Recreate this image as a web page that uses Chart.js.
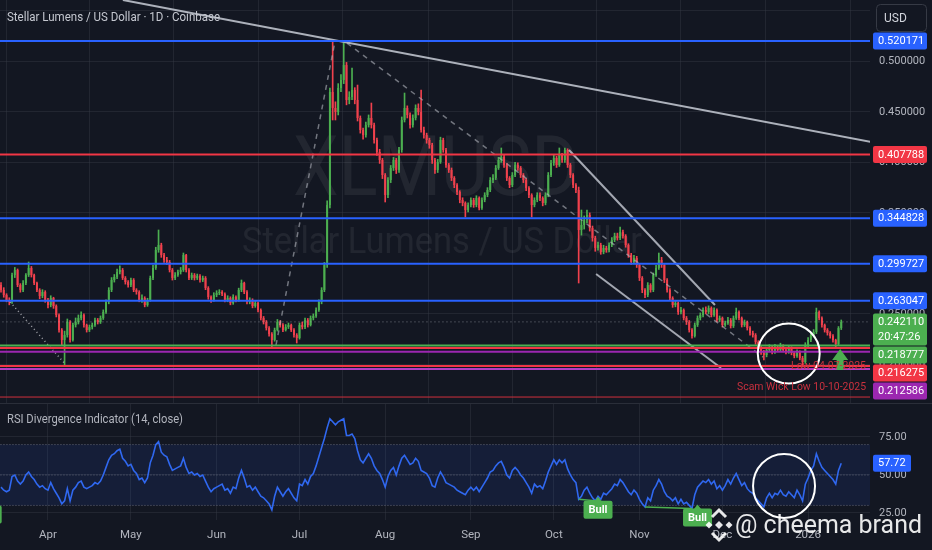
<!DOCTYPE html>
<html>
<head>
<meta charset="utf-8">
<script src="https://cdn.jsdelivr.net/npm/chart.js@4.4.1/dist/chart.umd.min.js"></script>
<style>
html,body{margin:0;padding:0;background:#131722;}
#wrap{width:932px;height:550px;position:relative;overflow:hidden;background:#131722;}
#pricePane{position:absolute;left:0;top:0;width:932px;height:403px;}
#rsiPane{position:absolute;left:0;top:403px;width:932px;height:147px;}
</style>
</head>
<body>
<div id="wrap">
  <div id="pricePane"><canvas id="priceChart"></canvas></div>
  <div id="rsiPane"><canvas id="rsiChart"></canvas></div>
</div>
<script>

/* Data: daily XLMUSD candles, day 0 = 15 Mar 2025 */

const firstOpen = 0.2786;

const closes = [
.2737,.2687,.2638,.2618,.2885,.2935,.2786,.2737,.2806,.2885,
.2955,.2885,.2806,.2737,.2677,.2717,.2638,.2588,.2657,.2578,
.2489,.2341,.2242,.2291,.2420,.2242,.2390,.2420,.2459,.2489,
.2390,.2341,.2370,.2390,.2440,.2420,.2459,.2519,.2618,.2737,
.2836,.2866,.2915,.2935,.2856,.2816,.2786,.2836,.2737,.2717,
.2638,.2657,.2588,.2638,.2856,.2955,.3133,.3182,.3083,.3034,
.3014,.2935,.2856,.2885,.2915,.2935,.3083,.2935,.2856,.2885,
.2856,.2875,.2836,.2856,.2757,.2667,.2638,.2687,.2707,.2717,
.2697,.2638,.2657,.2608,.2667,.2638,.2737,.2806,.2717,.2618,
.2638,.2578,.2608,.2539,.2459,.2420,.2360,.2301,.2242,.2341,
.2420,.2390,.2341,.2370,.2390,.2341,.2291,.2261,.2390,.2370,
.2440,.2390,.2459,.2479,.2539,.2618,.2737,.2984,.3578,.4697,
.4539,.4499,.4737,.4816,.4964,.4618,.4648,.4717,.4618,.4440,
.4321,.4271,.4370,.4440,.4370,.4222,.4103,.4024,.3875,.3677,
.3826,.3945,.4024,.3925,.4123,.4420,.4539,.4469,.4370,.4440,
.4539,.4499,.4321,.4271,.4222,.4172,.4024,.3925,.4004,.4222,
.4123,.3974,.3925,.3846,.3776,.3707,.3628,.3598,.3529,.3578,
.3628,.3578,.3648,.3549,.3628,.3677,.3727,.3826,.3846,.3945,
.4024,.4054,.3974,.3846,.3776,.3875,.3974,.3945,.3875,.3826,
.3747,.3677,.3578,.3628,.3677,.3648,.3598,.3677,.3875,.3994,
.4044,.3974,.4073,.4024,.4123,.3974,.3875,.3776,.3727,.3331,
.3380,.3430,.3479,.3350,.3252,.3153,.3182,.3113,.3153,.3133,
.3182,.3232,.3271,.3252,.3311,.3271,.3182,.3083,.3014,.3054,
.2984,.2856,.2737,.2687,.2786,.2737,.2885,.2955,.3034,.2984,
.2836,.2737,.2657,.2588,.2608,.2519,.2539,.2459,.2420,.2341,
.2281,.2390,.2459,.2489,.2539,.2519,.2558,.2489,.2539,.2440,
.2459,.2390,.2410,.2440,.2380,.2459,.2519,.2459,.2390,.2420,
.2360,.2311,.2291,.2222,.2162,.2123,.2093,.2143,.2172,.2123,
.2162,.2143,.2182,.2143,.2123,.2162,.2113,.2083,.2123,.2063,
.2024,.2192,.2242,.2291,.2321,.2519,.2459,.2390,.2341,.2311,
.2281,.2242,.2202,.2360,.24211
];

const highs = [
.2810,.2760,.2700,.2660,.2905,.2960,.2945,.2800,.2830,.2900,
.3014,.2970,.2895,.2815,.2750,.2740,.2730,.2655,.2680,.2665,
.2590,.2500,.2355,.2330,.2450,.2435,.2410,.2460,.2490,.2520,
.2500,.2400,.2390,.2410,.2460,.2455,.2480,.2540,.2640,.2760,
.2860,.2890,.2945,.2975,.2950,.2870,.2830,.2855,.2850,.2750,
.2730,.2690,.2670,.2655,.2875,.2980,.3160,.3331,.3200,.3100,
.3060,.3030,.2950,.2910,.2935,.2960,.3103,.3090,.2950,.2905,
.2900,.2895,.2890,.2875,.2870,.2770,.2680,.2710,.2730,.2740,
.2730,.2710,.2680,.2670,.2690,.2680,.2755,.2836,.2815,.2730,
.2660,.2650,.2630,.2620,.2550,.2475,.2435,.2375,.2315,.2360,
.2445,.2435,.2405,.2395,.2410,.2400,.2355,.2305,.2410,.2420,
.2460,.2455,.2480,.2500,.2560,.2640,.2760,.3010,.3620,.4737,
.5202,.4600,.4780,.4870,.5182,.4990,.4700,.4935,.4740,.4766,
.4460,.4340,.4400,.4470,.4588,.4390,.4240,.4130,.4040,.3890,
.3850,.3970,.4050,.4040,.4150,.4450,.4687,.4560,.4490,.4470,
.4570,.4580,.4717,.4350,.4290,.4240,.4190,.4040,.4030,.4250,
.4240,.4140,.3990,.3945,.3860,.3790,.3720,.3650,.3610,.3600,
.3650,.3645,.3670,.3660,.3650,.3700,.3750,.3850,.3880,.3970,
.4050,.4143,.4070,.3990,.3860,.3900,.4000,.3995,.3960,.3890,
.3840,.3760,.3690,.3650,.3700,.3700,.3660,.3700,.3900,.4020,
.4070,.4060,.4143,.4090,.4143,.4135,.3990,.3890,.3790,.3756,
.3529,.3470,.3529,.3500,.3370,.3270,.3210,.3200,.3180,.3170,
.3205,.3255,.3300,.3300,.3360,.3330,.3285,.3195,.3100,.3080,
.3070,.3000,.2870,.2750,.2810,.2800,.2905,.2980,.3103,.3060,
.3000,.2850,.2750,.2670,.2635,.2620,.2565,.2550,.2475,.2435,
.2355,.2410,.2480,.2510,.2560,.2570,.2580,.2570,.2560,.2550,
.2480,.2470,.2430,.2465,.2455,.2480,.2558,.2530,.2470,.2440,
.2430,.2375,.2330,.2305,.2235,.2180,.2140,.2165,.2195,.2185,
.2200,.2180,.2210,.2195,.2160,.2185,.2175,.2130,.2145,.2135,
.2080,.2215,.2265,.2315,.2345,.2558,.2530,.2470,.2400,.2355,
.2325,.2295,.2250,.2375,.2440
];

const lows = [
.2715,.2665,.2620,.2590,.2605,.2860,.2770,.2715,.2720,.2790,
.2870,.2865,.2790,.2720,.2650,.2660,.2615,.2560,.2570,.2555,
.2470,.2320,.2192,.1994,.2270,.2220,.2230,.2370,.2400,.2440,
.2370,.2320,.2325,.2350,.2375,.2400,.2405,.2445,.2505,.2600,
.2720,.2815,.2850,.2895,.2840,.2795,.2765,.2770,.2720,.2695,
.2620,.2615,.2570,.2575,.2625,.2840,.2940,.3110,.3060,.3010,
.2990,.2915,.2835,.2840,.2870,.2895,.2920,.2915,.2840,.2840,
.2835,.2840,.2815,.2820,.2740,.2645,.2615,.2625,.2670,.2690,
.2680,.2620,.2620,.2590,.2595,.2620,.2625,.2720,.2700,.2600,
.2600,.2560,.2565,.2520,.2440,.2400,.2340,.2280,.2162,.2230,
.2330,.2370,.2325,.2330,.2355,.2325,.2270,.2212,.2250,.2350,
.2355,.2370,.2380,.2440,.2465,.2525,.2600,.2720,.2960,.3550,
.4420,.4420,.4470,.4700,.4780,.4570,.4580,.4620,.4580,.4410,
.4290,.4230,.4250,.4350,.4340,.4190,.4070,.3990,.3840,.3608,
.3650,.3800,.3920,.3890,.3900,.4100,.4400,.4440,.4340,.4350,
.4420,.4470,.4300,.4240,.4190,.4140,.3990,.3890,.3900,.3990,
.4100,.3950,.3900,.3820,.3750,.3680,.3600,.3570,.3460,.3510,
.3560,.3555,.3560,.3530,.3535,.3610,.3660,.3710,.3800,.3830,
.3930,.4000,.3950,.3820,.3750,.3760,.3860,.3920,.3850,.3800,
.3720,.3650,.3460,.3560,.3610,.3620,.3570,.3580,.3660,.3860,
.3970,.3950,.3960,.4000,.4000,.3950,.3850,.3750,.3700,.2806,
.3280,.3340,.3400,.3320,.3220,.3120,.3130,.3090,.3095,.3110,
.3115,.3165,.3215,.3230,.3235,.3250,.3160,.3060,.2990,.2995,
.2960,.2830,.2710,.2660,.2670,.2715,.2720,.2870,.2940,.2960,
.2810,.2715,.2635,.2565,.2570,.2495,.2500,.2440,.2395,.2320,
.2261,.2270,.2375,.2440,.2470,.2500,.2500,.2470,.2475,.2420,
.2425,.2370,.2375,.2395,.2360,.2365,.2445,.2440,.2370,.2375,
.2340,.2290,.2270,.2200,.2140,.2100,.2044,.2075,.2125,.2105,
.2110,.2125,.2130,.2125,.2105,.2110,.2095,.2065,.2070,.2045,
.1974,.2010,.2175,.2225,.2270,.2305,.2440,.2370,.2320,.2290,
.2260,.2220,.2162,.2190,.2345
];

const rsi = [
42,40,39,40,49,50,46,44,46,50,
52,49,47,44,42,43,41,40,45,41,
38,35,31,33,41,33,40,42,45,46,
42,41,42,43,45,44,46,50,55,60,
63,64,66,67,61,59,56,57,53,51,
47,48,45,48,58,63,70,72,65,63,
62,57,53,54,55,56,61,55,51,52,
50,51,49,50,46,42,39,41,42,43,
44,40,41,38,42,41,48,53,48,42,
43,40,42,39,36,35,33,31,27,36,
42,39,36,39,41,38,35,33,44,43,
47,44,49,51,56,62,68,74,81,87,
85,83,85,86,87,76,76,77,74,66,
60,58,61,64,61,56,53,51,47,42,
49,53,55,50,56,61,63,60,57,58,
61,59,53,52,51,48,43,42,48,52,
49,45,44,43,42,40,39,38,37,40,
42,40,42,39,42,45,48,52,53,56,
58,59,55,50,48,53,55,53,50,48,
45,42,38,44,42,43,41,46,52,56,
60,57,60,58,60,54,50,47,45,34,
36,40,42,38,35,33,36,34,38,37,
39,41,44,43,47,45,42,39,37,40,
38,34,31,29,35,33,40,43,47,44,
39,36,35,33,35,31,34,31,32,30,
28,37,42,44,46,45,47,44,46,41,
43,40,43,47,44,48,51,47,43,45,
41,39,38,35,33,31,29,35,38,35,
38,37,40,37,36,39,37,35,40,37,
33,44,48,53,56,64,59,55,53,51,
49,47,44,53,57.72
];

const monthDays = [17, 47, 78, 108, 139, 170, 200, 231, 261, 292];
const monthNames = ["Apr", "May", "Jun", "Jul", "Aug", "Sep", "Oct", "Nov", "Dec", "2026"];

const priceTicks = [0.55, 0.5, 0.45, 0.4, 0.35, 0.3, 0.25, 0.2];
const rsiTicks = [25, 50, 75];
const rsiBands = [70, 50, 30];

const taggedLevels = [0.520171, 0.407788, 0.344828, 0.299727, 0.263047, 0.218777, 0.216275, 0.212586];
const plainLevels = [0.1984, 0.1955, 0.1677];

// drawn trend lines, [day, price]
const resistLine = [[44.1, 0.5608], [314.8, 0.4202]];
const rallyLine = [[99.5, 0.2192], [120.8, 0.5192]];
const decayLine = [[125.2, 0.5182], [275.7, 0.2073]];
const aprilLine = [[3.3, 0.2618], [23.2, 0.2004]];
const channelTop = [[205.5, 0.4123], [258.3, 0.2588]];
const channelBottom = [[215.3, 0.2895], [260.5, 0.1965]];

// RSI divergence marks
const bullLines = [[[209, 34], [215, 33]], [[233, 29], [250, 28]]];
const bullDays = [-5, 216, 252];
const bullLevels = [30, 33, 28];

const countdown = "20:47:26";


/* Styles */

const BG = "#131722";
const GRID = "rgba(54,58,69,0.45)";
const UP = "#4caf50";
const DOWN = "#f0414d";
const BLUE = "#2962ff";
const RED = "#f23645";
const GREEN = "#4caf50";
const PURPLE = "#9c27b0";
const AXIS_TEXT = "#b2b5be";
const FONT = "Roboto, 'Noto Sans', sans-serif";

const TAG_COLORS = [BLUE, RED, BLUE, BLUE, BLUE, GREEN, RED, PURPLE];
const PLAIN_COLORS = [RED, "#b23cc4", "#d0303c"];
const PLAIN_WIDTHS = [2, 2, 1];

const X_MIN = -0.36;
const X_MAX = 314.4;

const days = closes.map((_, i) => i);
const opens = closes.map((c, i) => i === 0 ? firstOpen : closes[i - 1]);

function candleColor(ctx){
  const i = ctx.dataIndex;
  if(i === undefined) return UP;
  return closes[i] >= opens[i] ? UP : DOWN;
}

function lineSet(pts, color, width, dash){
  return {
    type: "line",
    data: pts.map(p => ({x: p[0], y: p[1]})),
    borderColor: color,
    borderWidth: width,
    borderDash: dash || [],
    pointRadius: 0,
    fill: false,
    tension: 0,
    order: 0
  };
}

function timeAxis(height){
  return {
    type: "linear",
    min: X_MIN,
    max: X_MAX,
    offset: false,
    afterBuildTicks: s => { s.ticks = monthDays.map(v => ({value: v})); },
    afterFit: s => { s.height = height; },
    ticks: {display: false},
    grid: {color: GRID, drawTicks: false},
    border: {display: false}
  };
}

function roundRect(ctx, x, y, w, h, r){
  ctx.beginPath();
  ctx.moveTo(x + r, y);
  ctx.lineTo(x + w - r, y);
  ctx.quadraticCurveTo(x + w, y, x + w, y + r);
  ctx.lineTo(x + w, y + h - r);
  ctx.quadraticCurveTo(x + w, y + h, x + w - r, y + h);
  ctx.lineTo(x + r, y + h);
  ctx.quadraticCurveTo(x, y + h, x, y + h - r);
  ctx.lineTo(x, y + r);
  ctx.quadraticCurveTo(x, y, x + r, y);
  ctx.closePath();
}

// squeeze text to the width it has in the screenshot
function fitText(ctx, text, x, y, width, align){
  const w = ctx.measureText(text).width;
  ctx.save();
  ctx.translate(x, y);
  ctx.scale(width / w, 1);
  ctx.textAlign = align || "left";
  ctx.fillText(text, 0, 0);
  ctx.restore();
}


/* Price pane drawings */

const pricePaint = {
  id: "pricePaint",

  beforeDatasetsDraw(chart){
    const ctx = chart.ctx;
    ctx.save();
    ctx.fillStyle = "rgba(255,255,255,0.065)";
    ctx.textBaseline = "middle";
    ctx.font = "84px " + FONT;
    fitText(ctx, "XLMUSD", 436, 174, 286, "center");
    ctx.font = "36px " + FONT;
    fitText(ctx, "Stellar Lumens / US Dollar", 442, 244, 400, "center");
    ctx.restore();
  },

  afterDraw(chart){
    const ctx = chart.ctx;
    const xs = chart.scales.x;
    const ys = chart.scales.y;
    const X = v => xs.getPixelForValue(v);
    const Y = v => ys.getPixelForValue(v);

    ctx.save();

    // hand drawn circle and arrow
    ctx.strokeStyle = "#ffffff";
    ctx.lineWidth = 2;
    ctx.beginPath();
    ctx.ellipse(X(285), Y(0.2108), X(296.2) - X(285), Y(0.1811) - Y(0.2108), 0, 0, Math.PI * 2);
    ctx.stroke();

    const ax = X(303.6), ay = Y(0.2153);
    ctx.fillStyle = GREEN;
    ctx.beginPath();
    ctx.moveTo(ax, ay);
    ctx.lineTo(ax + 8, ay + 11);
    ctx.lineTo(ax + 3.5, ay + 11);
    ctx.lineTo(ax + 3.5, ay + 21);
    ctx.lineTo(ax - 3.5, ay + 21);
    ctx.lineTo(ax - 3.5, ay + 11);
    ctx.lineTo(ax - 8, ay + 11);
    ctx.closePath();
    ctx.fill();

    // line labels
    ctx.fillStyle = "#c8313e";
    ctx.font = "11.5px " + FONT;
    ctx.textBaseline = "alphabetic";
    fitText(ctx, "Low 04-07-2025", 866, Y(plainLevels[0]) + 3, 75, "right");
    fitText(ctx, "Scam Wick Low 10-10-2025", 866, Y(plainLevels[2]) - 7, 129, "right");

    // title
    ctx.fillStyle = "#c5c8d0";
    ctx.font = "13px " + FONT;
    ctx.textBaseline = "middle";
    fitText(ctx, "Stellar Lumens / US Dollar \u00b7 1D \u00b7 Coinbase", 7, 18, 213, "left");

    // price axis
    ctx.fillStyle = BG;
    ctx.fillRect(871, 0, 61, chart.height);
    ctx.font = "11px " + FONT;
    ctx.fillStyle = AXIS_TEXT;
    ctx.textAlign = "left";
    priceTicks.forEach(v => ctx.fillText(v.toFixed(6), 879, Y(v)));

    // tags, pushed down when they overlap like on TradingView
    const tags = taggedLevels.map((v, k) => ({v: v, bg: TAG_COLORS[k], lines: [v.toFixed(6)]}));
    const last = closes[closes.length - 1];
    tags.push({v: last, bg: GREEN, lines: [last.toFixed(6), countdown]});
    tags.sort((a, b) => b.v - a.v);
    let prevBottom = -100;
    tags.forEach(t => {
      const h = t.lines.length === 1 ? 17 : 32;
      const top = Math.max(Y(t.v) - 8.5, prevBottom + 1);
      prevBottom = top + h;
      ctx.fillStyle = t.bg;
      roundRect(ctx, 873, top, 54, h, 2);
      ctx.fill();
      ctx.fillStyle = "#ffffff";
      t.lines.forEach((s, k) => ctx.fillText(s, 878, top + 9 + k * 14.5));
    });

    // currency box
    ctx.fillStyle = BG;
    ctx.strokeStyle = "#363a45";
    ctx.lineWidth = 1;
    roundRect(ctx, 876.5, 4.5, 50, 27, 4);
    ctx.fill();
    ctx.stroke();
    ctx.fillStyle = "#d1d4dc";
    ctx.font = "12px " + FONT;
    ctx.fillText("USD", 884, 18.5);

    ctx.restore();
  }
};


/* RSI pane drawings */

const rsiPaint = {
  id: "rsiPaint",

  afterDraw(chart){
    const ctx = chart.ctx;
    const xs = chart.scales.x;
    const ys = chart.scales.y;
    const X = v => xs.getPixelForValue(v);
    const Y = v => ys.getPixelForValue(v);
    const area = chart.chartArea;

    ctx.save();

    // pane separator
    ctx.strokeStyle = "#2a2e39";
    ctx.lineWidth = 1;
    ctx.beginPath();
    ctx.moveTo(0, 0.5);
    ctx.lineTo(chart.width, 0.5);
    ctx.stroke();

    // bull labels
    ctx.font = "bold 11px " + FONT;
    ctx.textBaseline = "middle";
    bullDays.forEach((d, k) => {
      const cx = X(d), top = Y(bullLevels[k]);
      ctx.fillStyle = GREEN;
      ctx.beginPath();
      ctx.moveTo(cx - 4, top + 1);
      ctx.lineTo(cx, top - 4);
      ctx.lineTo(cx + 4, top + 1);
      ctx.fill();
      roundRect(ctx, cx - 14.5, top, 29, 18, 2);
      ctx.fill();
      ctx.fillStyle = "#ffffff";
      ctx.textAlign = "center";
      ctx.fillText("Bull", cx, top + 9.5);
    });

    // hand drawn circle
    ctx.strokeStyle = "#ffffff";
    ctx.lineWidth = 2;
    ctx.beginPath();
    ctx.ellipse(X(283.3), Y(42.8), 31, 32, 0, 0, Math.PI * 2);
    ctx.stroke();

    // title
    ctx.fillStyle = AXIS_TEXT;
    ctx.font = "12.5px " + FONT;
    ctx.textAlign = "left";
    fitText(ctx, "RSI Divergence Indicator (14, close)", 7, 17, 176, "left");

    // axis
    ctx.fillStyle = BG;
    ctx.fillRect(871, 1, 61, chart.height);
    ctx.fillStyle = AXIS_TEXT;
    ctx.font = "11px " + FONT;
    ctx.textAlign = "left";
    rsiTicks.forEach(v => ctx.fillText(v.toFixed(2), 879, Y(v)));

    const lastRsi = rsi[rsi.length - 1];
    const ty = Y(lastRsi);
    ctx.fillStyle = BLUE;
    roundRect(ctx, 873, ty - 8.5, 38, 17, 2);
    ctx.fill();
    ctx.fillStyle = "#ffffff";
    ctx.fillText(lastRsi.toFixed(2), 878, ty);

    // time labels
    ctx.fillStyle = AXIS_TEXT;
    ctx.font = "11.5px " + FONT;
    ctx.textAlign = "center";
    monthDays.forEach((d, k) => ctx.fillText(monthNames[k], X(d), area.bottom + 15));

    // author watermark
    ctx.fillStyle = "rgba(255,255,255,0.9)";
    ctx.font = "26px " + FONT;
    ctx.textBaseline = "alphabetic";
    fitText(ctx, "@ cheema brand", 735, 130, 187, "left");

    const lx = 719, ly = 122;
    const diamond = (cx, cy, r) => {
      ctx.beginPath();
      ctx.moveTo(cx, cy - r);
      ctx.lineTo(cx + r, cy);
      ctx.lineTo(cx, cy + r);
      ctx.lineTo(cx - r, cy);
      ctx.closePath();
      ctx.fill();
    };
    diamond(lx, ly, 4);
    diamond(lx - 10, ly, 3.5);
    diamond(lx + 10, ly, 3.5);
    ctx.strokeStyle = "rgba(255,255,255,0.9)";
    ctx.lineWidth = 3;
    ctx.beginPath();
    ctx.moveTo(lx - 7, ly - 8);
    ctx.lineTo(lx, ly - 15);
    ctx.lineTo(lx + 7, ly - 8);
    ctx.moveTo(lx - 7, ly + 8);
    ctx.lineTo(lx, ly + 15);
    ctx.lineTo(lx + 7, ly + 8);
    ctx.stroke();

    ctx.restore();
  }
};


/* Price chart */

const priceDatasets = [
  {
    type: "bar",
    data: days.map(i => ({x: i, y: [lows[i], highs[i]]})),
    backgroundColor: candleColor,
    barThickness: 1,
    grouped: false,
    order: 3
  },
  {
    type: "bar",
    data: days.map(i => ({x: i, y: [opens[i], closes[i]]})),
    backgroundColor: candleColor,
    barPercentage: 0.72,
    categoryPercentage: 1,
    minBarLength: 1,
    grouped: false,
    order: 2
  }
];

taggedLevels.forEach((v, k) => {
  priceDatasets.push(lineSet([[X_MIN - 2, v], [X_MAX + 2, v]], TAG_COLORS[k], 2));
});
plainLevels.forEach((v, k) => {
  priceDatasets.push(lineSet([[X_MIN - 2, v], [X_MAX + 2, v]], PLAIN_COLORS[k], PLAIN_WIDTHS[k]));
});
const lastClose = closes[closes.length - 1];
priceDatasets.push(lineSet([[X_MIN - 2, lastClose], [X_MAX + 2, lastClose]], "rgba(178,181,190,0.6)", 1, [1, 3]));
priceDatasets.push(lineSet(resistLine, "rgba(200,204,214,0.85)", 2));
priceDatasets.push(lineSet(rallyLine, "rgba(178,181,190,0.6)", 1.5, [5, 5]));
priceDatasets.push(lineSet(decayLine, "rgba(178,181,190,0.6)", 1.5, [5, 5]));
priceDatasets.push(lineSet(aprilLine, "rgba(220,220,225,0.7)", 1.5, [1, 3]));
priceDatasets.push(lineSet(channelTop, "rgba(200,204,214,0.8)", 2));
priceDatasets.push(lineSet(channelBottom, "rgba(200,204,214,0.8)", 2));

new Chart(document.getElementById("priceChart"), {
  type: "bar",
  data: {datasets: priceDatasets},
  options: {
    responsive: true,
    maintainAspectRatio: false,
    animation: false,
    events: [],
    layout: {padding: 0},
    plugins: {legend: {display: false}, tooltip: {enabled: false}},
    scales: {
      x: timeAxis(0),
      y: {
        type: "linear",
        position: "right",
        min: 0.1618,
        max: 0.5608,
        afterBuildTicks: s => { s.ticks = priceTicks.map(v => ({value: v})); },
        afterFit: s => { s.width = 62; },
        ticks: {display: false},
        grid: {color: GRID, drawTicks: false},
        border: {display: false}
      }
    }
  },
  plugins: [pricePaint]
});


/* RSI chart */

const rsiDatasets = [
  {
    data: [{x: X_MIN - 2, y: rsiBands[0]}, {x: X_MAX + 2, y: rsiBands[0]}],
    borderColor: "rgba(120,123,134,0.8)",
    borderWidth: 1,
    borderDash: [1, 2],
    backgroundColor: "rgba(41,98,255,0.1)",
    fill: {value: rsiBands[2]},
    pointRadius: 0,
    order: 5
  },
  lineSet([[X_MIN - 2, rsiBands[1]], [X_MAX + 2, rsiBands[1]]], "rgba(120,123,134,0.8)", 1, [1, 2]),
  lineSet([[X_MIN - 2, rsiBands[2]], [X_MAX + 2, rsiBands[2]]], "rgba(120,123,134,0.8)", 1, [1, 2]),
  {
    data: days.map(i => ({x: i, y: rsi[i]})),
    borderColor: "#3068f0",
    borderWidth: 1.6,
    pointRadius: 0,
    fill: false,
    tension: 0,
    order: 1
  }
];
rsiDatasets[1].order = 4;
rsiDatasets[2].order = 4;
bullLines.forEach(seg => {
  const s = lineSet(seg, GREEN, 1.5);
  s.order = -1;
  rsiDatasets.push(s);
});

new Chart(document.getElementById("rsiChart"), {
  type: "line",
  data: {datasets: rsiDatasets},
  options: {
    responsive: true,
    maintainAspectRatio: false,
    animation: false,
    events: [],
    layout: {padding: 0},
    plugins: {legend: {display: false}, tooltip: {enabled: false}},
    scales: {
      x: timeAxis(30),
      y: {
        type: "linear",
        position: "right",
        min: 20.39,
        max: 97.37,
        afterBuildTicks: s => { s.ticks = rsiTicks.map(v => ({value: v})); },
        afterFit: s => { s.width = 62; },
        ticks: {display: false},
        grid: {color: GRID, drawTicks: false},
        border: {display: false}
      }
    }
  },
  plugins: [rsiPaint]
});

</script>
</body>
</html>
